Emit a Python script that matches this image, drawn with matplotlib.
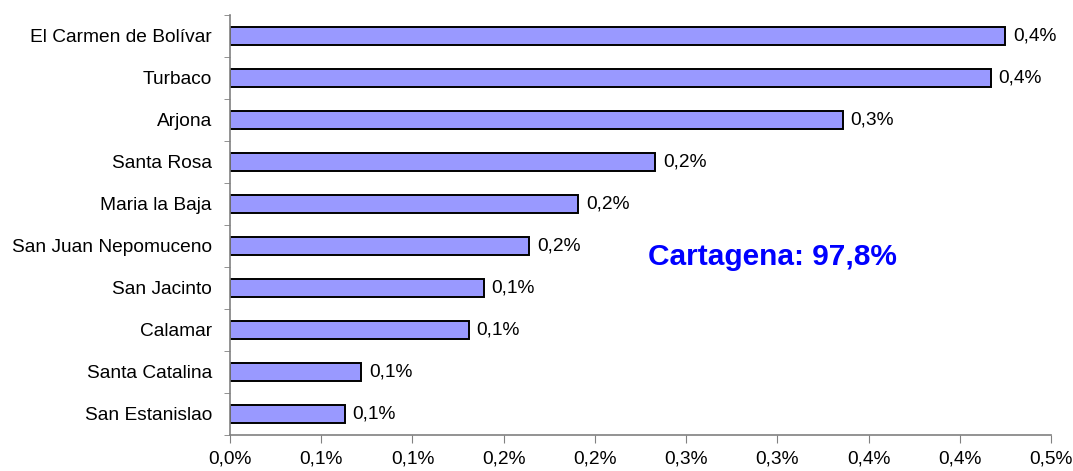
import matplotlib.pyplot as plt

# municipalities (top to bottom) and their share of the department total, in %
municipios = ['El Carmen de Bolívar', 'Turbaco', 'Arjona', 'Santa Rosa', 'Maria la Baja',
              'San Juan Nepomuceno', 'San Jacinto', 'Calamar', 'Santa Catalina', 'San Estanislao']
participacion = [0.425, 0.417, 0.336, 0.233, 0.191, 0.164, 0.139, 0.131, 0.072, 0.063]
etiquetas = ['0,4%', '0,4%', '0,3%', '0,2%', '0,2%', '0,2%', '0,1%', '0,1%', '0,1%', '0,1%']

xticks = [0.0, 0.05, 0.10, 0.15, 0.20, 0.25, 0.30, 0.35, 0.40, 0.45]
xtick_labels = ['0,0%', '0,1%', '0,1%', '0,2%', '0,2%', '0,3%', '0,3%', '0,4%', '0,4%', '0,5%']

nota = 'Cartagena: 97,8%'

plt.rcParams['font.family'] = ['Liberation Sans', 'DejaVu Sans']

fig = plt.figure(figsize=(10.73, 4.71), dpi=100)
ax = fig.add_axes([230 / 1073, 1 - 435 / 471, 821 / 1073, 420 / 471])

n = len(municipios)
ypos = [n - 1 - i for i in range(n)]

ax.barh(ypos, participacion, height=0.41, color='#9999FF', edgecolor='black', linewidth=1.4)

# value labels just right of each bar
for y, v, lab in zip(ypos, participacion, etiquetas):
    ax.text(v + 0.0042, y, lab, va='center', ha='left', fontsize=13.8)

ax.set_xlim(0, 0.45)
ax.set_ylim(-0.5, n - 0.5)

ax.set_xticks(xticks)
ax.set_xticklabels(xtick_labels, fontsize=13.8)
ax.set_yticks(ypos)
ax.set_yticklabels(municipios, fontsize=13.8)
ax.set_yticks([k - 0.5 for k in range(n + 1)], minor=True)

ax.tick_params(axis='y', which='major', length=0, pad=13)
ax.tick_params(axis='y', which='minor', length=4, color='#808080', direction='out')
ax.tick_params(axis='x', length=6, color='#808080', direction='out', pad=5)

for s in ['top', 'right']:
    ax.spines[s].set_visible(False)
for s in ['left', 'bottom']:
    ax.spines[s].set_color('#808080')
    ax.spines[s].set_linewidth(1.2)

ax.text(0.509, 0.424, nota, transform=ax.transAxes, ha='left', va='center',
        fontsize=21.5, fontweight='bold', color='#0000FF')

fig.savefig('out.png', dpi=100)
